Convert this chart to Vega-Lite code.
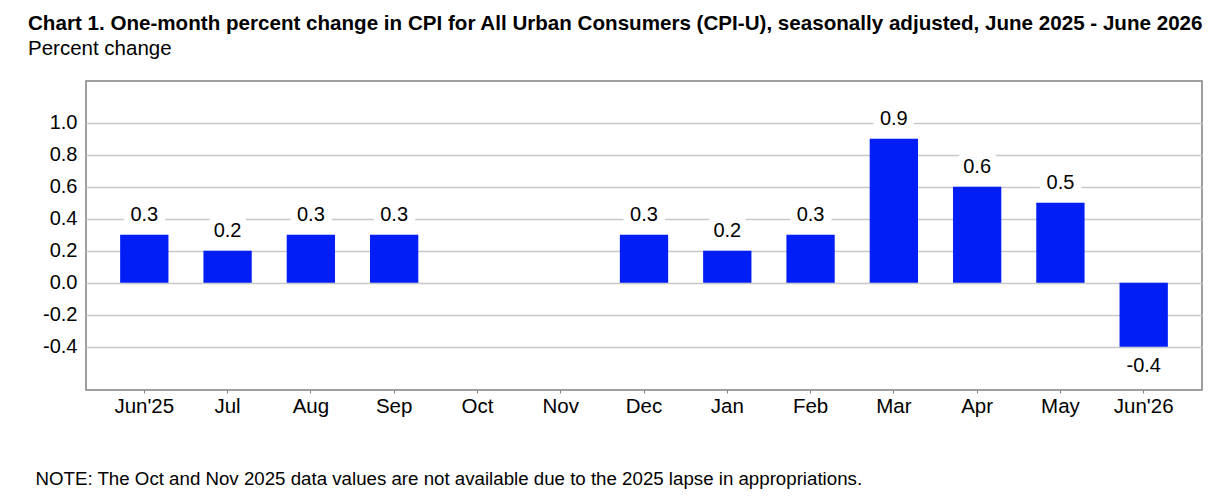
{
  "$schema": "https://vega.github.io/schema/vega-lite/v6.json",
  "width": 1116,
  "height": 309,
  "autosize": {"type": "none"},
  "padding": {"left": 86, "top": 81, "right": 24, "bottom": 109},
  "background": "white",
  "title": {
    "text": "Chart 1. One-month percent change in CPI for All Urban Consumers (CPI-U), seasonally adjusted, June 2025 - June 2026",
    "subtitle": "Percent change",
    "anchor": "start",
    "frame": "group",
    "dx": -58,
    "offset": 22,
    "font": "Liberation Sans",
    "fontSize": 20.6,
    "fontWeight": "bold",
    "color": "#000000",
    "subtitleFont": "Liberation Sans",
    "subtitleFontSize": 20.5,
    "subtitleColor": "#000000",
    "subtitlePadding": 4
  },
  "config": {
    "locale": {
      "number": {"decimal": ".", "thousands": ",", "grouping": [3], "currency": ["$", ""], "minus": "-"}
    },
    "view": {"stroke": "#808080", "strokeWidth": 1.5},
    "axis": {"labelFont": "Liberation Sans", "labelFontSize": 20, "labelColor": "#000000"}
  },
  "data": {
    "values": [
      {"month": "Jun'25", "value": 0.3},
      {"month": "Jul", "value": 0.2},
      {"month": "Aug", "value": 0.3},
      {"month": "Sep", "value": 0.3},
      {"month": "Oct", "value": null},
      {"month": "Nov", "value": null},
      {"month": "Dec", "value": 0.3},
      {"month": "Jan", "value": 0.2},
      {"month": "Feb", "value": 0.3},
      {"month": "Mar", "value": 0.9},
      {"month": "Apr", "value": 0.6},
      {"month": "May", "value": 0.5},
      {"month": "Jun'26", "value": -0.4}
    ]
  },
  "encoding": {
    "x": {
      "field": "month",
      "type": "nominal",
      "sort": null,
      "scale": {
        "domain": ["Jun'25", "Jul", "Aug", "Sep", "Oct", "Nov", "Dec", "Jan", "Feb", "Mar", "Apr", "May", "Jun'26"],
        "paddingInner": 0.42,
        "paddingOuter": 0.41
      },
      "axis": {
        "labelAngle": 0,
        "labelFontSize": 20.5,
        "domain": false,
        "ticks": true,
        "tickSize": 3,
        "tickColor": "#808080",
        "labelPadding": 3,
        "title": "NOTE: The Oct and Nov 2025 data values are not available due to the 2025 lapse in appropriations.",
        "titleFont": "Liberation Sans",
        "titleFontSize": 18.7,
        "titleFontWeight": "normal",
        "titleColor": "#000000",
        "titleAnchor": "start",
        "titleAlign": "left",
        "titleBaseline": "middle",
        "titleX": -51,
        "titleY": 88
      }
    },
    "y": {
      "field": "value",
      "type": "quantitative",
      "scale": {"domain": [-0.67, 1.26], "nice": false, "zero": false},
      "axis": {
        "values": [-0.4, -0.2, 0, 0.2, 0.4, 0.6, 0.8, 1.0],
        "format": ".1f",
        "domain": false,
        "ticks": false,
        "grid": true,
        "gridColor": "#c8c8c8",
        "gridWidth": 1.5,
        "labelPadding": 9,
        "title": null
      }
    }
  },
  "layer": [
    {"mark": {"type": "bar", "color": "#001ef5"}},
    {
      "transform": [{"filter": "datum.value >= 0"}],
      "mark": {"type": "text", "dy": -20, "font": "Liberation Sans", "fontSize": 20, "stroke": "white", "strokeWidth": 16, "fill": "white"},
      "encoding": {"text": {"field": "value", "format": ".1f"}}
    },
    {
      "transform": [{"filter": "datum.value < 0"}],
      "mark": {"type": "text", "dy": 19, "font": "Liberation Sans", "fontSize": 20, "stroke": "white", "strokeWidth": 16, "fill": "white"},
      "encoding": {"text": {"field": "value", "format": ".1f"}}
    },
    {
      "transform": [{"filter": "datum.value >= 0"}],
      "mark": {"type": "text", "dy": -20, "font": "Liberation Sans", "fontSize": 20, "color": "#000000"},
      "encoding": {"text": {"field": "value", "format": ".1f"}}
    },
    {
      "transform": [{"filter": "datum.value < 0"}],
      "mark": {"type": "text", "dy": 19, "font": "Liberation Sans", "fontSize": 20, "color": "#000000"},
      "encoding": {"text": {"field": "value", "format": ".1f"}}
    }
  ]
}
